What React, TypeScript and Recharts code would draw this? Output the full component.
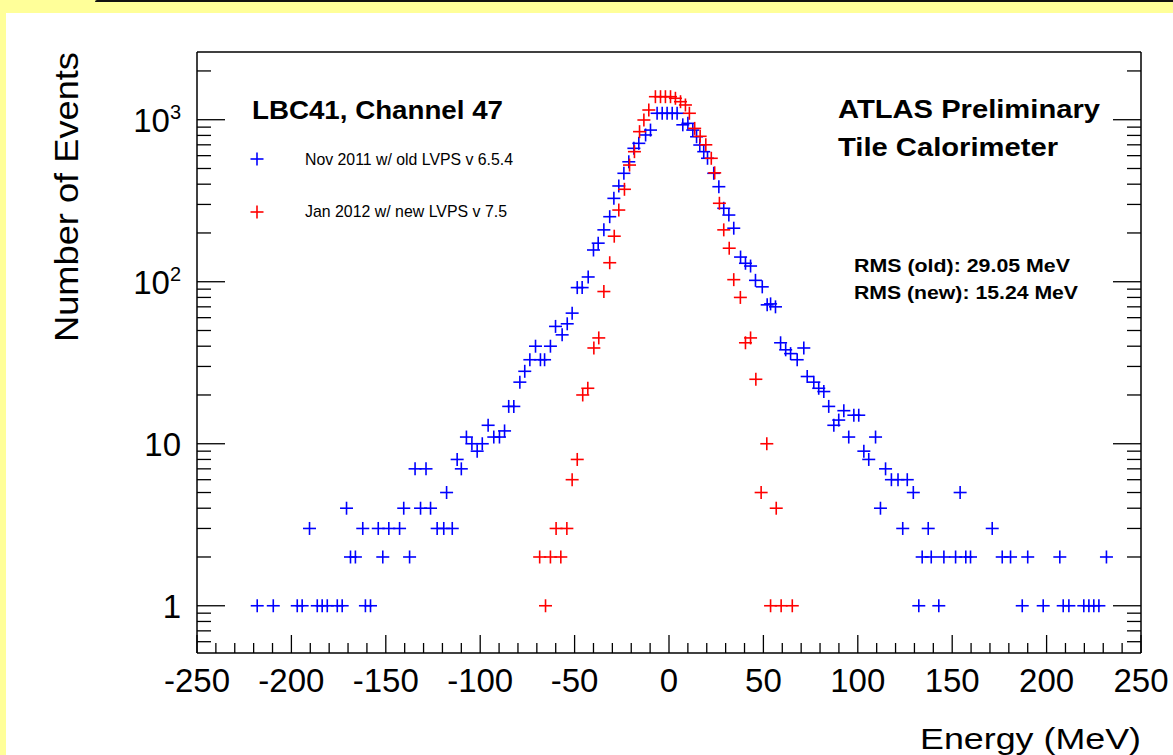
import React from "react";
import { ScatterChart, Scatter, XAxis, YAxis } from "recharts";

// Nov 2011, old LVPS (blue)
const oldEnergy = [
  -218.1, -209.6, -196.9, -194.3, -190.4, -186.3, -183.7, -181.0, -175.7, -173.1,
  -170.8, -168.7, -166.1, -162.2, -160.8, -158.1, -154.0, -151.6, -148.4, -142.7,
  -140.5, -137.4, -134.5, -131.6, -128.7, -126.3, -122.8, -119.3, -117.8, -114.8,
  -112.2, -110.0, -107.3, -104.4, -101.6, -98.9, -95.8, -92.8, -89.8, -87.1,
  -84.9, -82.2, -79.0, -76.4, -73.7, -70.7, -68.1, -65.9, -62.8, -60.1,
  -56.6, -53.9, -51.3, -48.6, -46.0, -42.8, -40.0, -37.5, -34.5, -31.4,
  -29.2, -26.6, -23.9, -21.3, -18.6, -16.0, -12.4, -9.8, -6.3, -3.6,
  -1.0, 1.7, 4.3, 7.3, 10.0, 12.6, 14.6, 16.3, 18.4, 20.4,
  23.7, 26.4, 29.0, 31.7, 34.3, 37.9, 40.5, 43.2, 45.8, 49.4,
  52.0, 53.8, 56.4, 59.1, 61.8, 64.4, 67.9, 71.4, 73.2, 76.7,
  79.3, 82.0, 84.6, 87.3, 89.9, 92.6, 95.2, 97.9, 100.5, 103.2,
  105.8, 109.4, 112.0, 114.7, 117.8, 121.3, 123.8, 126.2, 129.4, 132.3,
  134.1, 137.3, 138.9, 142.9, 145.6, 151.8, 154.2, 157.2, 159.7, 171.2,
  176.5, 180.9, 187.1, 190.0, 198.2, 207.0, 208.8, 211.8, 219.7, 222.4,
  225.0, 227.7, 231.7,
];
const oldCounts = [
  1, 1, 1, 1, 3, 1, 1, 1, 1, 1,
  4, 2, 2, 3, 1, 1, 3, 2, 3, 3,
  4, 2, 7, 4, 7, 4, 3, 3, 5, 3,
  8, 7, 11, 10, 9, 10, 13, 11, 11, 12,
  17, 17, 24, 28, 33, 40, 33, 33, 40, 53,
  47, 55, 64, 92, 92, 107, 157, 173, 209, 252,
  327, 390, 467, 550, 666, 715, 805, 863, 1096, 1096,
  1096, 1096, 1096, 930, 950, 863, 785, 698, 635, 578,
  467, 386, 284, 258, 214, 142, 130, 125, 102, 93,
  72, 73, 70, 42, 38, 36, 33, 39, 26, 24,
  22, 21, 17, 13, 14, 16, 11, 15, 15, 9,
  8, 11, 4, 7, 6, 6, 3, 6, 5, 1,
  2, 3, 2, 1, 2, 2, 5, 2, 2, 3,
  2, 2, 1, 2, 1, 2, 1, 1, 1, 1,
  1, 1, 2,
];

// Jan 2012, new LVPS (red)
const newEnergy = [
  -68.5, -65.4, -62.8, -59.8, -57.3, -54.1, -51.3, -48.6, -45.7, -43.0,
  -39.8, -37.2, -34.5, -31.4, -29.0, -26.6, -23.6, -20.9, -18.3, -15.6,
  -13.3, -10.7, -7.2, -4.5, -1.9, 0.8, 3.4, 6.1, 8.7, 10.8,
  13.6, 16.5, 19.5, 22.4, 24.2, 26.7, 29.0, 31.9, 34.3, 37.8,
  40.5, 43.2, 46.0, 48.8, 51.8, 53.8, 56.8, 59.4, 65.3,
];
const newCounts = [
  2, 1, 2, 3, 2, 3, 6, 8, 20, 22,
  39, 45, 87, 131, 191, 277, 372, 525, 635, 844,
  996, 1148, 1387, 1387, 1387, 1387, 1356, 1292, 1233, 1096,
  884, 790, 700, 578, 470, 305, 209, 161, 103, 80,
  42, 45, 25, 5, 10, 1, 4, 1, 1,
];

const xTicks = Array.from({ length: 51 }, (_, i) => -250 + i * 10);
const yTicks = [
  0.6, 0.7, 0.8, 0.9, 1, 2, 3, 4, 5, 6, 7, 8, 9, 10, 20, 30, 40, 50, 60, 70, 80, 90,
  100, 200, 300, 400, 500, 600, 700, 800, 900, 1000, 2000,
];
const yLabels: { [key: number]: [string, string] } = {
  1: ["1", ""],
  10: ["10", ""],
  100: ["10", "2"],
  1000: ["10", "3"],
};

const FONT = "'Liberation Sans', Arial, Helvetica, sans-serif";

const oldData = oldEnergy.map((e, i) => ({ energy: e, events: oldCounts[i] }));
const newData = newEnergy.map((e, i) => ({ energy: e, events: newCounts[i] }));

const Plus = ({ cx, cy, color }: { cx: number; cy: number; color: string }) => (
  <g stroke={color} strokeWidth={1.6}>
    <line x1={cx - 6.5} y1={cy} x2={cx + 6.5} y2={cy} />
    <line x1={cx} y1={cy - 6.5} x2={cx} y2={cy + 6.5} />
  </g>
);

const isMajorX = (v: number) => v % 50 === 0;
const isMajorY = (v: number) => Math.abs(Math.log10(v) - Math.round(Math.log10(v))) < 1e-6;

const BottomTick = (props: any) => {
  const { x, y, payload } = props;
  const major = isMajorX(payload.value);
  return (
    <g>
      <line x1={x} y1={y} x2={x} y2={y - (major ? 18 : 10)} stroke="#000" strokeWidth={1.3} />
      {major && (
        <text x={x} y={y + 39} textAnchor="middle" fontSize={33} fontFamily={FONT} fill="#000">
          {payload.value}
        </text>
      )}
    </g>
  );
};

const TopTick = (props: any) => {
  const { x, y, payload } = props;
  const major = isMajorX(payload.value);
  return <line x1={x} y1={y} x2={x} y2={y + (major ? 18 : 10)} stroke="#000" strokeWidth={1.3} />;
};

const LeftTick = (props: any) => {
  const { x, y, payload } = props;
  const major = isMajorY(payload.value);
  const label = yLabels[Math.round(payload.value)];
  return (
    <g>
      <line x1={x} y1={y} x2={x + (major ? 28 : 14)} y2={y} stroke="#000" strokeWidth={1.3} />
      {major && label && (
        <text x={x - 16} y={y + 12} textAnchor="end" fontSize={33} fontFamily={FONT} fill="#000">
          {label[0]}
          {label[1] && (
            <tspan fontSize={20} dy={-13}>
              {label[1]}
            </tspan>
          )}
        </text>
      )}
    </g>
  );
};

const RightTick = (props: any) => {
  const { x, y, payload } = props;
  const major = isMajorY(payload.value);
  return <line x1={x} y1={y} x2={x - (major ? 28 : 14)} y2={y} stroke="#000" strokeWidth={1.3} />;
};

const frame = { stroke: "#000", strokeWidth: 1.5 };

export default function App() {
  return (
    <div
      style={{
        position: "absolute",
        top: 0,
        left: 0,
        width: 1173,
        height: 755,
        background: "#ffff99",
        overflow: "hidden",
      }}
    >
      <div
        style={{
          position: "absolute",
          top: 0,
          left: 95,
          width: 1078,
          height: 2,
          background: "#111",
          borderTopLeftRadius: 2,
        }}
      />
      <div
        style={{ position: "absolute", top: 13, left: 6, right: 0, bottom: 0, background: "#fff" }}
      />
      <div style={{ position: "absolute", top: 0, left: 0 }}>
        <ScatterChart width={1173} height={755} margin={{ top: 22, right: 2, bottom: 72, left: 167 }}>
          <XAxis
            xAxisId="bottom"
            dataKey="energy"
            type="number"
            domain={[-250, 250]}
            allowDataOverflow
            ticks={xTicks}
            interval={0}
            height={30}
            tickSize={0}
            tickMargin={0}
            tickLine={false}
            axisLine={frame}
            tick={BottomTick}
          />
          <XAxis
            xAxisId="top"
            orientation="top"
            type="number"
            domain={[-250, 250]}
            allowDataOverflow
            ticks={xTicks}
            interval={0}
            height={30}
            tickSize={0}
            tickMargin={0}
            tickLine={false}
            axisLine={frame}
            tick={TopTick}
          />
          <YAxis
            yAxisId="left"
            dataKey="events"
            type="number"
            scale="log"
            domain={[0.511, 2618]}
            allowDataOverflow
            ticks={yTicks}
            interval={0}
            width={30}
            tickSize={0}
            tickMargin={0}
            tickLine={false}
            axisLine={frame}
            tick={LeftTick}
          />
          <YAxis
            yAxisId="right"
            orientation="right"
            type="number"
            scale="log"
            domain={[0.511, 2618]}
            allowDataOverflow
            ticks={yTicks}
            interval={0}
            width={30}
            tickSize={0}
            tickMargin={0}
            tickLine={false}
            axisLine={frame}
            tick={RightTick}
          />
          <Scatter
            name="Nov 2011 w/ old LVPS v 6.5.4"
            data={oldData}
            xAxisId="bottom"
            yAxisId="left"
            isAnimationActive={false}
            shape={(p: any) => <Plus cx={p.cx} cy={p.cy} color="#0000ff" />}
          />
          <Scatter
            name="Jan 2012 w/ new LVPS v 7.5"
            data={newData}
            xAxisId="bottom"
            yAxisId="left"
            isAnimationActive={false}
            shape={(p: any) => <Plus cx={p.cx} cy={p.cy} color="#ff0000" />}
          />
        </ScatterChart>
      </div>
      <svg
        width={1173}
        height={755}
        style={{ position: "absolute", top: 0, left: 0, pointerEvents: "none" }}
        fontFamily={FONT}
      >
        <text x={252} y={119} fontSize={25} fontWeight="bold" textLength={251} lengthAdjust="spacingAndGlyphs">
          LBC41, Channel 47
        </text>
        <Plus cx={257} cy={159} color="#0000ff" />
        <text x={305} y={165} fontSize={17} textLength={208} lengthAdjust="spacingAndGlyphs">
          Nov 2011 w/ old LVPS v 6.5.4
        </text>
        <Plus cx={257} cy={212} color="#ff0000" />
        <text x={305} y={217} fontSize={17} textLength={202} lengthAdjust="spacingAndGlyphs">
          Jan 2012 w/ new LVPS v 7.5
        </text>
        <text x={838} y={118} fontSize={26} fontWeight="bold" textLength={262} lengthAdjust="spacingAndGlyphs">
          ATLAS Preliminary
        </text>
        <text x={838} y={156} fontSize={26} fontWeight="bold" textLength={220} lengthAdjust="spacingAndGlyphs">
          Tile Calorimeter
        </text>
        <text x={854} y={272} fontSize={18} fontWeight="bold" textLength={216} lengthAdjust="spacingAndGlyphs">
          RMS (old): 29.05 MeV
        </text>
        <text x={854} y={299} fontSize={18} fontWeight="bold" textLength={224} lengthAdjust="spacingAndGlyphs">
          RMS (new): 15.24 MeV
        </text>
        <text
          x={1141}
          y={749}
          fontSize={30}
          textAnchor="end"
          textLength={221}
          lengthAdjust="spacingAndGlyphs"
        >
          Energy (MeV)
        </text>
        <text
          transform="translate(78,52) rotate(-90)"
          fontSize={33}
          textAnchor="end"
          textLength={290}
          lengthAdjust="spacingAndGlyphs"
        >
          Number of Events
        </text>
      </svg>
    </div>
  );
}
